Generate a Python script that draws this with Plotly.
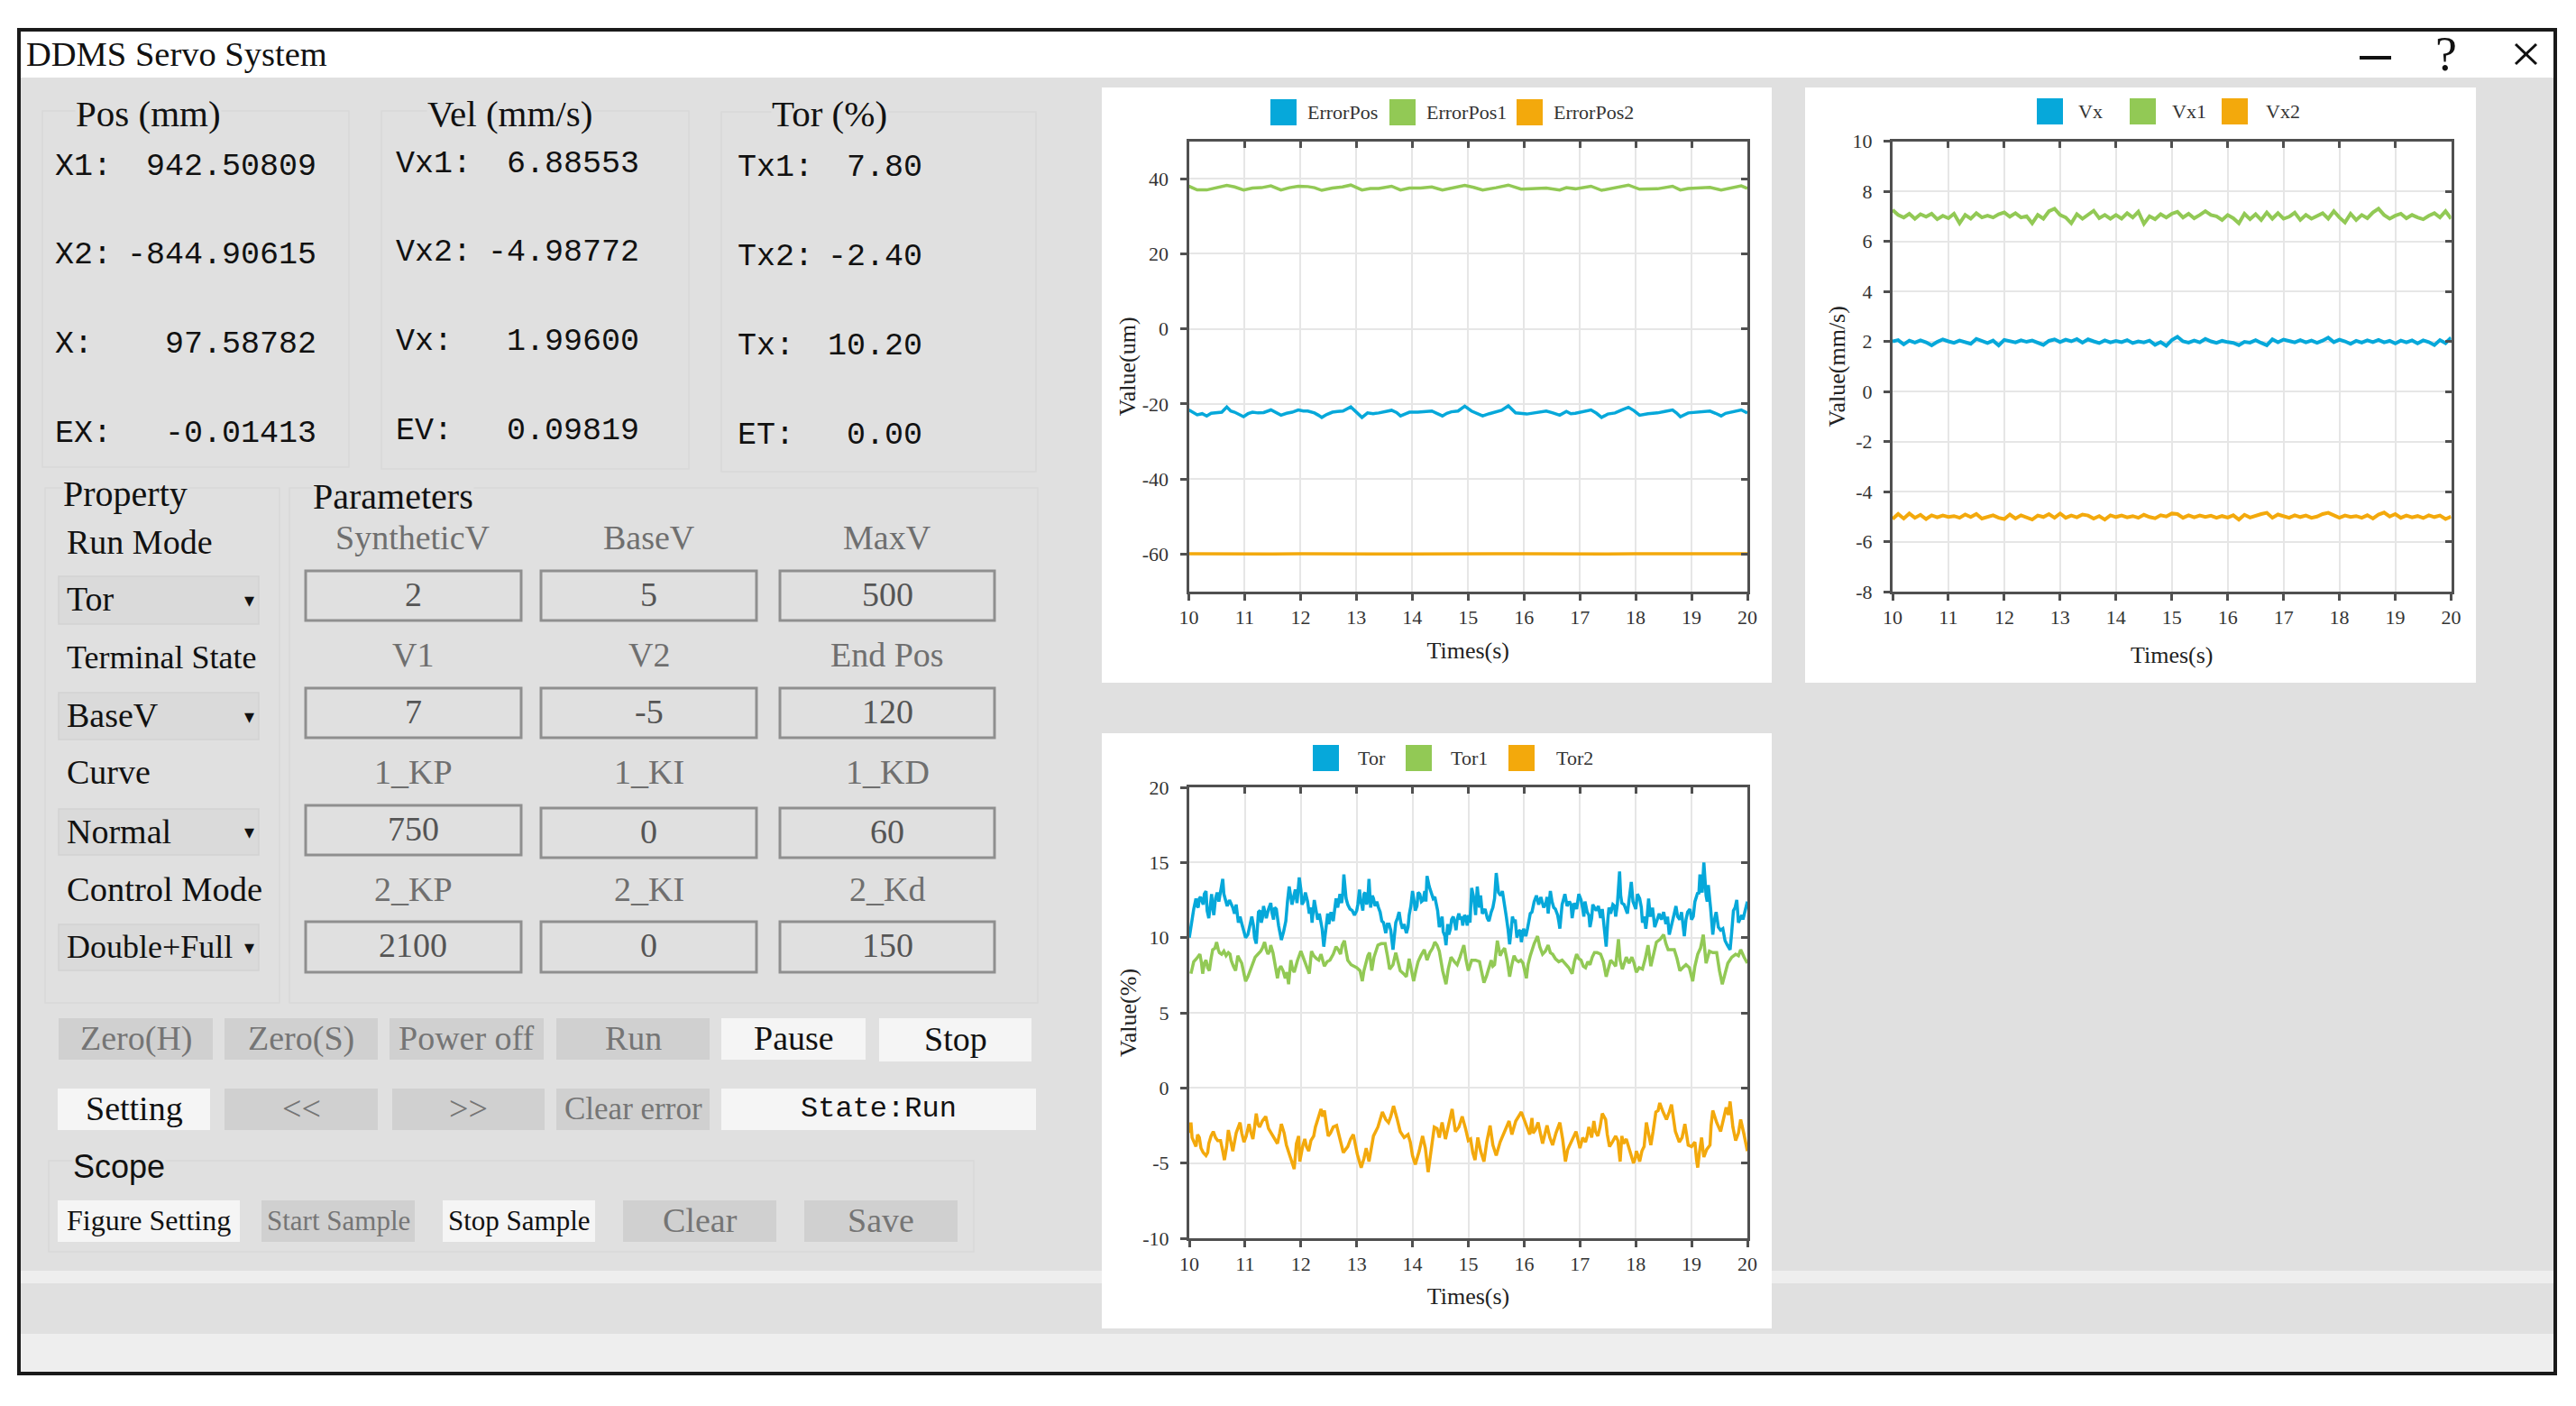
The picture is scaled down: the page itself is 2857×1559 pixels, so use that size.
import plotly.graph_objects as go

WIDTH = 2857
HEIGHT = 1559

SERIF = "Liberation Serif"
MONO = "Liberation Mono"
SANS = "Liberation Sans"

BLUE = "#06A8DA"
GREEN = "#92C955"
ORANGE = "#F3A90C"
BG = "#E0E0E0"
BAND = "#EEEEEE"
DARK = "#111111"
MUTED = "#6F6F6F"

# ---- chart values: (time, value)
ERROR_POS = [(10.0,-21.6),(10.08,-22.2),(10.15,-22.9),(10.24,-22.6),(10.32,-23.2),(10.4,-22.5),(10.47,-22.4),(10.59,-22.2),(10.68,-20.8),(10.75,-21.9),(10.82,-22.2),(10.9,-22.7),(10.98,-23.4),(11.06,-22.6),(11.14,-22.2),(11.24,-22.4),(11.34,-22.3),(11.47,-21.6),(11.56,-22.4),(11.65,-23.0),(11.75,-22.5),(11.85,-22.2),(11.96,-21.6),(12.05,-21.9),(12.13,-21.9),(12.25,-22.4),(12.32,-23.0),(12.38,-23.6),(12.47,-22.8),(12.57,-22.2),(12.66,-22.0),(12.76,-21.9),(12.9,-20.8),(13.0,-22.3),(13.1,-23.6),(13.2,-22.4),(13.3,-22.6),(13.4,-22.4),(13.52,-22.1),(13.63,-21.7),(13.72,-22.3),(13.79,-23.2),(13.87,-22.7),(13.95,-22.2),(14.1,-22.2),(14.22,-22.0),(14.35,-21.9),(14.45,-22.6),(14.54,-23.2),(14.62,-22.5),(14.7,-22.1),(14.82,-21.9),(14.94,-20.6),(15.06,-21.9),(15.16,-22.6),(15.26,-23.2),(15.38,-22.6),(15.5,-22.2),(15.6,-21.7),(15.72,-20.5),(15.85,-22.4),(16.05,-22.7),(16.2,-22.3),(16.4,-21.9),(16.52,-22.4),(16.64,-23.0),(16.76,-22.0),(16.84,-22.6),(16.92,-22.5),(17.05,-22.0),(17.2,-21.6),(17.3,-22.5),(17.39,-23.6),(17.5,-22.7),(17.63,-22.4),(17.75,-21.6),(17.87,-20.9),(17.97,-21.8),(18.07,-23.0),(18.22,-22.6),(18.39,-22.4),(18.52,-22.0),(18.66,-21.6),(18.73,-22.4),(18.8,-23.4),(18.94,-22.4),(19.12,-22.1),(19.33,-21.9),(19.43,-22.5),(19.53,-23.2),(19.61,-22.5),(19.69,-22.2),(19.8,-21.8),(19.89,-21.6),(20.0,-22.4)]
ERROR_POS1 = [(10.0,38.0),(10.15,37.0),(10.32,37.0),(10.47,37.5),(10.68,38.2),(10.82,37.8),(10.98,37.0),(11.14,37.5),(11.3,37.6),(11.47,38.1),(11.65,37.0),(11.8,37.6),(11.96,38.0),(12.13,37.9),(12.25,37.6),(12.38,36.9),(12.57,37.5),(12.75,37.8),(12.9,38.3),(13.1,37.0),(13.25,37.4),(13.4,37.4),(13.63,38.0),(13.79,37.0),(13.95,37.5),(14.15,37.5),(14.35,37.8),(14.54,37.0),(14.7,37.5),(14.94,38.2),(15.1,37.7),(15.26,37.0),(15.5,37.6),(15.72,38.3),(15.95,37.2),(16.2,37.4),(16.4,37.5),(16.64,37.0),(16.76,37.6),(16.92,37.3),(17.2,38.0),(17.39,36.9),(17.63,37.5),(17.87,38.3),(18.07,37.2),(18.39,37.3),(18.66,38.0),(18.8,37.0),(18.94,37.4),(19.33,37.7),(19.53,37.0),(19.69,37.4),(19.89,38.1),(20.0,37.4)]
ERROR_POS2 = [(10.0,-59.9),(10.5,-60.0),(11.0,-59.9),(11.5,-60.0),(12.0,-59.9),(12.5,-60.0),(13.0,-59.9),(13.5,-60.0),(14.0,-60.0),(14.5,-59.9),(15.0,-60.0),(15.5,-59.9),(16.0,-59.9),(16.5,-60.0),(17.0,-59.9),(17.5,-60.0),(18.0,-59.9),(18.5,-60.0),(19.0,-59.9),(19.5,-59.9),(20.0,-59.9)]

V_TIMES = [10.0,10.1,10.2,10.3,10.4,10.5,10.6,10.7,10.8,10.9,11.0,11.1,11.2,11.3,11.4,11.5,11.6,11.7,11.8,11.9,12.0,12.1,12.2,12.3,12.4,12.5,12.6,12.7,12.8,12.9,13.0,13.1,13.2,13.3,13.4,13.5,13.6,13.7,13.8,13.9,14.0,14.1,14.2,14.3,14.4,14.5,14.6,14.7,14.8,14.9,15.0,15.1,15.2,15.3,15.4,15.5,15.6,15.7,15.8,15.9,16.0,16.1,16.2,16.3,16.4,16.5,16.6,16.7,16.8,16.9,17.0,17.1,17.2,17.3,17.4,17.5,17.6,17.7,17.8,17.9,18.0,18.1,18.2,18.3,18.4,18.5,18.6,18.7,18.8,18.9,19.0,19.1,19.2,19.3,19.4,19.5,19.6,19.7,19.8,19.9,20.0]
VX = [2.0,2.05,1.88,2.03,1.95,2.04,1.96,1.84,1.98,2.08,2.0,1.94,2.03,1.97,1.9,2.1,2.0,1.93,2.03,1.84,2.06,2.0,1.96,2.04,1.98,2.03,1.94,1.86,2.02,2.08,1.97,2.07,2.0,2.09,1.95,2.08,2.0,1.93,2.04,1.96,2.02,1.97,2.05,1.93,2.0,1.96,2.03,1.86,1.97,1.82,2.05,2.18,2.0,1.95,2.03,1.96,2.1,2.0,1.94,2.02,1.97,1.94,1.85,1.98,1.95,2.05,1.94,1.84,2.08,1.96,2.07,2.0,1.96,2.05,1.96,2.03,1.94,2.03,2.15,1.97,2.07,2.0,1.9,2.02,1.95,2.04,1.97,2.06,1.96,2.02,1.92,2.03,1.96,2.04,1.92,2.04,1.97,1.85,2.05,1.93,2.15]
VX1 = [7.25,7.05,6.95,7.1,6.9,7.08,6.98,7.1,6.88,7.02,6.92,7.1,6.72,7.05,6.9,7.12,6.95,7.02,6.95,7.08,7.15,6.98,7.12,6.95,7.0,6.72,7.05,6.9,7.2,7.3,7.05,6.95,6.72,7.08,6.9,7.05,7.22,6.92,7.05,6.9,7.05,6.9,7.12,6.95,7.18,6.7,7.0,6.88,7.08,6.95,7.1,7.18,6.95,7.1,6.92,7.05,7.2,7.05,7.0,6.85,7.05,6.92,6.72,7.1,6.88,7.08,6.85,7.15,6.9,7.12,6.9,6.98,7.14,6.85,7.05,6.9,7.0,7.12,6.9,7.2,6.95,6.75,7.1,6.85,7.05,6.92,7.15,7.3,7.05,6.9,7.02,7.1,6.92,7.05,6.95,6.88,7.02,7.12,6.95,7.2,6.9]
VX2 = [-5.1,-4.9,-5.08,-4.88,-5.05,-4.93,-5.1,-4.95,-5.03,-4.96,-5.02,-4.98,-5.05,-4.92,-5.02,-4.9,-5.08,-5.0,-4.95,-5.05,-5.1,-4.92,-5.08,-4.95,-5.02,-5.12,-4.96,-5.02,-4.9,-5.05,-4.88,-5.05,-4.96,-5.03,-4.92,-4.96,-5.08,-4.98,-5.12,-4.95,-5.02,-4.96,-5.03,-4.98,-5.05,-4.93,-5.02,-5.07,-4.95,-5.0,-4.88,-4.9,-5.05,-4.95,-5.03,-4.96,-5.02,-4.97,-5.05,-4.98,-5.04,-4.95,-5.12,-4.93,-5.04,-4.96,-4.9,-4.85,-5.05,-4.92,-4.98,-5.05,-4.95,-5.02,-4.96,-5.05,-5.0,-4.9,-4.85,-4.95,-5.05,-4.96,-5.02,-4.98,-5.05,-4.95,-5.08,-4.92,-4.84,-5.0,-4.9,-5.05,-4.96,-5.03,-4.98,-5.06,-4.95,-5.02,-4.96,-5.1,-5.0]

# torque peaks and valleys
TOR = [(10.0,10.0),(10.03,10.8),(10.08,11.9),(10.12,12.6),(10.16,12.0),(10.2,12.7),(10.25,12.2),(10.3,13.1),(10.35,11.3),(10.4,12.9),(10.44,11.5),(10.5,13.0),(10.53,12.4),(10.56,13.0),(10.6,13.9),(10.65,12.5),(10.72,12.5),(10.78,12.0),(10.84,12.2),(10.88,11.0),(10.95,10.8),(11.01,10.0),(11.05,10.2),(11.1,11.2),(11.15,10.8),(11.2,9.6),(11.24,11.7),(11.29,11.0),(11.33,12.1),(11.38,11.3),(11.46,12.3),(11.51,11.2),(11.56,11.9),(11.6,10.8),(11.65,9.85),(11.73,11.1),(11.79,13.4),(11.84,12.2),(11.9,13.2),(11.93,12.3),(11.97,14.0),(12.02,12.2),(12.08,13.0),(12.12,12.4),(12.18,12.0),(12.2,11.0),(12.24,12.5),(12.3,11.2),(12.33,11.6),(12.38,10.6),(12.41,9.4),(12.46,11.4),(12.5,10.9),(12.58,11.1),(12.63,12.6),(12.7,12.9),(12.73,12.3),(12.77,14.2),(12.81,12.6),(12.88,11.9),(12.96,11.5),(13.02,12.2),(13.05,13.2),(13.09,12.2),(13.13,12.9),(13.18,12.2),(13.22,13.9),(13.25,12.0),(13.3,12.6),(13.36,12.4),(13.42,11.7),(13.48,11.0),(13.52,10.3),(13.58,10.9),(13.65,9.2),(13.7,11.0),(13.76,11.7),(13.82,10.6),(13.89,10.3),(13.94,11.5),(14.0,13.1),(14.05,11.8),(14.1,13.0),(14.16,12.4),(14.22,13.1),(14.26,14.1),(14.33,13.0),(14.4,12.7),(14.45,11.8),(14.5,11.0),(14.55,10.4),(14.6,9.5),(14.65,10.2),(14.7,11.2),(14.76,10.9),(14.8,11.2),(14.86,11.2),(14.9,10.8),(14.96,11.3),(15.0,11.5),(15.03,11.0),(15.06,13.3),(15.13,11.5),(15.16,13.4),(15.2,12.0),(15.25,11.6),(15.37,11.1),(15.44,12.0),(15.5,14.3),(15.58,12.8),(15.64,12.2),(15.68,11.4),(15.74,9.55),(15.79,11.4),(15.84,11.2),(15.9,10.4),(15.95,9.7),(16.03,10.1),(16.08,11.0),(16.14,11.7),(16.22,12.8),(16.3,12.7),(16.39,12.3),(16.43,11.6),(16.47,13.1),(16.53,12.0),(16.6,11.5),(16.64,10.6),(16.73,12.9),(16.81,12.4),(16.86,11.3),(16.98,12.9),(17.05,11.9),(17.09,12.4),(17.18,10.7),(17.23,12.2),(17.29,11.8),(17.37,11.3),(17.43,10.8),(17.47,9.4),(17.52,12.0),(17.59,12.2),(17.64,11.4),(17.71,14.4),(17.75,12.3),(17.85,11.6),(17.92,13.7),(18.0,11.9),(18.07,12.6),(18.12,11.0),(18.18,10.6),(18.23,12.6),(18.34,10.7),(18.42,11.6),(18.5,11.7),(18.6,10.2),(18.72,12.1),(18.79,11.2),(18.87,10.1),(18.93,11.7),(19.0,11.2),(19.06,12.4),(19.11,13.0),(19.15,14.2),(19.19,13.0),(19.22,15.0),(19.26,12.8),(19.3,13.5),(19.38,10.2),(19.44,11.7),(19.52,10.5),(19.6,9.8),(19.69,9.2),(19.75,11.8),(19.81,12.5),(19.84,11.0),(19.9,11.5),(19.95,11.6),(20.0,12.4)]
TOR1 = [(10.03,7.6),(10.08,8.4),(10.19,8.9),(10.24,7.6),(10.3,8.5),(10.36,7.8),(10.42,9.2),(10.49,9.7),(10.54,9.0),(10.62,9.1),(10.7,9.0),(10.75,8.5),(10.83,7.8),(10.87,8.8),(10.94,8.3),(11.01,7.1),(11.1,7.9),(11.18,8.7),(11.28,9.1),(11.35,9.7),(11.41,8.9),(11.46,9.5),(11.53,8.4),(11.58,7.3),(11.64,8.1),(11.72,7.3),(11.78,6.9),(11.82,8.5),(11.88,7.7),(12.0,9.1),(12.07,8.5),(12.15,7.6),(12.19,9.1),(12.28,8.6),(12.36,8.9),(12.42,8.1),(12.52,8.5),(12.63,9.4),(12.71,8.9),(12.78,9.8),(12.84,8.5),(12.95,8.1),(13.06,7.8),(13.1,7.1),(13.17,8.4),(13.23,9.0),(13.27,7.8),(13.38,9.5),(13.51,9.6),(13.59,7.9),(13.7,9.0),(13.78,7.8),(13.89,7.4),(13.94,8.6),(14.02,7.1),(14.1,8.4),(14.21,9.2),(14.26,8.5),(14.4,9.7),(14.48,9.1),(14.6,6.9),(14.69,8.7),(14.8,8.2),(14.92,9.5),(15.0,7.8),(15.06,8.5),(15.2,8.4),(15.28,7.0),(15.33,7.5),(15.41,8.5),(15.47,8.2),(15.52,9.8),(15.57,8.8),(15.65,9.3),(15.74,7.4),(15.82,8.8),(15.9,8.4),(15.98,8.3),(16.04,7.3),(16.11,8.8),(16.24,10.1),(16.33,8.9),(16.43,9.5),(16.51,8.9),(16.62,8.4),(16.75,8.2),(16.86,7.6),(16.94,8.9),(17.02,8.5),(17.1,8.0),(17.18,8.2),(17.26,9.0),(17.37,8.9),(17.47,7.4),(17.55,8.5),(17.64,8.1),(17.69,9.9),(17.76,7.9),(17.83,8.7),(17.93,8.7),(18.01,7.7),(18.12,7.9),(18.22,9.5),(18.27,8.1),(18.37,9.7),(18.5,10.2),(18.58,9.2),(18.69,9.2),(18.74,8.6),(18.79,7.8),(18.9,8.2),(19.02,7.1),(19.11,8.9),(19.21,10.2),(19.26,8.3),(19.32,9.1),(19.45,9.0),(19.55,6.9),(19.65,8.3),(19.79,8.9),(19.88,9.2),(20.0,8.3)]
TOR2 = [(10.0,-3.0),(10.03,-2.3),(10.05,-3.3),(10.15,-3.1),(10.21,-4.0),(10.3,-4.5),(10.35,-3.7),(10.43,-2.9),(10.51,-3.5),(10.56,-3.5),(10.63,-4.8),(10.7,-2.8),(10.78,-4.2),(10.91,-2.3),(10.98,-3.6),(11.07,-2.4),(11.14,-3.4),(11.2,-1.7),(11.26,-2.6),(11.37,-1.9),(11.42,-2.7),(11.58,-3.7),(11.65,-2.4),(11.74,-3.8),(11.88,-5.4),(11.96,-3.2),(11.98,-4.9),(12.07,-3.4),(12.14,-4.2),(12.23,-3.2),(12.26,-2.6),(12.36,-1.4),(12.42,-1.5),(12.49,-3.2),(12.58,-2.6),(12.64,-2.5),(12.76,-4.3),(12.84,-3.9),(12.94,-3.1),(13.08,-5.3),(13.17,-4.0),(13.22,-4.9),(13.3,-3.2),(13.46,-1.6),(13.57,-2.3),(13.66,-1.2),(13.78,-2.9),(13.92,-3.1),(14.0,-4.5),(14.05,-5.1),(14.18,-3.2),(14.28,-5.6),(14.39,-2.6),(14.48,-3.3),(14.53,-2.3),(14.59,-3.4),(14.71,-1.4),(14.77,-2.9),(14.89,-1.9),(15.0,-3.5),(15.04,-3.4),(15.12,-4.8),(15.17,-3.3),(15.28,-4.9),(15.39,-2.5),(15.5,-4.5),(15.65,-2.9),(15.73,-2.2),(15.78,-3.1),(15.95,-1.6),(16.06,-2.7),(16.14,-2.0),(16.16,-3.0),(16.25,-2.3),(16.33,-3.7),(16.41,-2.5),(16.51,-3.8),(16.64,-2.3),(16.74,-4.9),(16.83,-3.7),(16.93,-2.9),(17.0,-4.0),(17.1,-3.6),(17.16,-2.6),(17.21,-3.3),(17.25,-2.2),(17.32,-3.2),(17.4,-1.7),(17.46,-2.1),(17.53,-3.9),(17.64,-3.2),(17.72,-4.9),(17.75,-3.2),(17.83,-3.4),(17.96,-5.0),(18.01,-4.2),(18.07,-4.9),(18.15,-3.9),(18.19,-2.3),(18.27,-3.8),(18.36,-1.6),(18.43,-1.0),(18.55,-2.1),(18.64,-1.1),(18.78,-3.6),(18.88,-2.4),(18.94,-3.8),(19.06,-3.6),(19.11,-5.3),(19.18,-3.3),(19.22,-4.6),(19.33,-3.8),(19.38,-1.5),(19.52,-2.9),(19.62,-1.3),(19.69,-0.9),(19.79,-3.5),(19.88,-2.1),(20.0,-4.2)]

# finer wiggles between those peaks, merged in by time
TOR_FINE = [(10.06,11.3),(10.14,12.1),(10.18,12.6),(10.27,12.9),(10.32,11.8),(10.38,12.2),(10.42,12.0),(10.47,12.6),(10.62,12.9),(10.68,12.1),(10.75,12.3),(10.81,11.6),(10.91,11.4),(10.98,10.4),(11.12,11.4),(11.17,10.0),(11.27,11.8),(11.31,11.3),(11.35,11.8),(11.42,11.9),(11.48,11.7),(11.53,12.0),(11.69,10.4),(11.76,12.4),(11.82,12.7),(11.87,12.7),(12.0,13.2),(12.05,12.4),(12.15,11.6),(12.27,11.8),(12.35,11.2),(12.44,10.4),(12.48,11.6),(12.54,11.7),(12.6,11.6),(12.66,12.0),(12.75,12.9),(12.84,12.2),(12.92,11.8),(13.0,11.8),(13.07,12.4),(13.11,11.8),(13.15,13.0),(13.2,12.6),(13.28,12.8),(13.33,12.1),(13.39,12.0),(13.45,11.1),(13.55,10.9),(13.61,10.5),(13.68,10.2),(13.73,11.3),(13.79,11.0),(13.85,10.9),(13.92,10.7),(13.97,12.1),(14.03,12.4),(14.08,12.1),(14.13,12.9),(14.19,12.5),(14.24,12.4),(14.3,13.4),(14.37,12.6),(14.42,12.4),(14.48,10.7),(14.53,11.4),(14.58,10.1),(14.63,10.9),(14.68,10.6),(14.73,11.4),(14.78,10.5),(14.83,11.6),(14.88,11.4),(14.93,11.5),(14.98,10.8),(15.1,12.6),(15.22,12.8),(15.3,11.9),(15.34,11.3),(15.41,11.7),(15.47,12.6),(15.54,13.0),(15.61,13.1),(15.71,10.6),(15.77,10.6),(15.82,11.0),(15.87,10.0),(15.93,10.5),(15.99,10.6),(16.06,10.6),(16.11,11.6),(16.18,12.4),(16.26,12.2),(16.35,12.0),(16.41,12.7),(16.5,12.4),(16.56,11.9),(16.62,11.1),(16.68,12.2),(16.77,12.1),(16.84,12.2),(16.9,12.3),(16.94,11.9),(17.02,12.5),(17.07,11.4),(17.13,11.7),(17.16,11.5),(17.21,11.3),(17.26,12.0),(17.33,12.1),(17.4,11.9),(17.45,10.3),(17.5,11.2),(17.55,11.6),(17.62,12.1),(17.67,12.2),(17.73,12.8),(17.79,12.2),(17.82,11.9),(17.88,12.5),(17.95,12.4),(18.03,12.9),(18.1,12.0),(18.15,11.4),(18.2,11.2),(18.26,11.4),(18.3,12.0),(18.38,11.2),(18.46,11.2),(18.54,10.9),(18.57,11.4),(18.65,11.1),(18.69,11.6),(18.75,11.4),(18.82,11.7),(18.9,11.2),(18.97,11.9),(19.03,11.4),(19.09,12.7),(19.13,12.9),(19.17,13.5),(19.24,13.6),(19.28,12.4),(19.34,12.0),(19.41,11.2),(19.48,10.7),(19.56,10.6),(19.64,9.5),(19.72,10.4),(19.78,12.0),(19.87,11.3),(19.92,11.2),(19.97,11.9)]
TOR1_FINE = [(10.05,7.9),(10.13,8.6),(10.22,8.3),(10.27,8.3),(10.33,8.0),(10.39,8.6),(10.46,9.3),(10.52,9.2),(10.58,8.9),(10.66,8.8),(10.73,8.9),(10.79,8.1),(10.85,8.3),(10.91,8.5),(10.98,7.6),(11.05,7.4),(11.14,8.3),(11.23,8.9),(11.31,9.3),(11.38,9.2),(11.44,9.1),(11.5,9.0),(11.56,7.9),(11.61,7.9),(11.68,7.8),(11.75,7.7),(11.85,7.9),(11.94,8.5),(12.04,8.7),(12.11,8.0),(12.23,8.8),(12.32,8.5),(12.39,8.5),(12.47,8.4),(12.58,8.9),(12.67,9.2),(12.74,9.5),(12.81,9.1),(12.9,8.2),(13.0,8.0),(13.13,7.8),(13.2,8.8),(13.31,8.7),(13.44,9.6),(13.55,8.8),(13.65,8.2),(13.74,8.4),(13.84,7.6),(13.97,8.0),(14.06,7.8),(14.15,8.8),(14.31,9.0),(14.36,9.3),(14.44,9.5),(14.54,7.8),(14.64,7.9),(14.75,8.4),(14.85,8.7),(14.96,8.5),(15.13,8.5),(15.24,7.6),(15.37,8.1),(15.44,8.1),(15.61,9.1),(15.7,8.4),(15.78,8.2),(15.86,8.5),(15.94,8.5),(16.01,7.8),(16.07,8.2),(16.18,9.6),(16.28,9.4),(16.38,9.1),(16.47,9.0),(16.56,8.6),(16.68,8.5),(16.8,8.0),(16.9,8.4),(16.98,8.6),(17.06,8.1),(17.14,8.4),(17.22,8.7),(17.31,9.0),(17.42,8.4),(17.51,8.0),(17.6,8.3),(17.72,8.5),(17.8,8.4),(17.88,8.3),(17.97,8.3),(18.06,8.0),(18.17,8.6),(18.32,9.0),(18.44,9.9),(18.54,9.6),(18.63,9.2),(18.84,8.0),(18.96,8.0),(19.06,8.1),(19.16,9.3),(19.38,9.0),(19.5,7.8),(19.6,7.6),(19.72,8.7),(19.84,8.8),(19.94,8.7)]
TOR2_FINE = [(10.08,-3.6),(10.12,-3.9),(10.18,-3.3),(10.25,-4.3),(10.33,-4.3),(10.39,-3.2),(10.47,-3.3),(10.6,-4.2),(10.67,-3.9),(10.74,-3.5),(10.84,-3.0),(10.94,-3.0),(11.02,-3.2),(11.1,-2.9),(11.17,-2.6),(11.23,-2.4),(11.31,-2.2),(11.48,-3.1),(11.54,-3.5),(11.62,-3.0),(11.7,-3.0),(11.81,-4.6),(11.92,-3.7),(12.03,-3.9),(12.1,-3.9),(12.18,-3.5),(12.31,-2.0),(12.39,-1.9),(12.46,-2.5),(12.53,-3.0),(12.7,-3.4),(12.8,-4.1),(12.89,-3.4),(13.01,-4.4),(13.13,-4.7),(13.26,-4.1),(13.38,-2.6),(13.52,-2.1),(13.61,-1.9),(13.72,-2.0),(13.85,-3.3),(13.96,-3.6),(14.12,-4.2),(14.23,-4.0),(14.34,-3.9),(14.44,-2.7),(14.65,-2.4),(14.74,-2.2),(14.83,-2.6),(14.95,-2.7),(15.08,-4.3),(15.15,-4.1),(15.22,-4.2),(15.33,-3.6),(15.44,-3.8),(15.57,-3.6),(15.85,-2.2),(16.02,-2.3),(16.1,-3.1),(16.2,-2.8),(16.29,-3.0),(16.37,-3.1),(16.46,-3.3),(16.57,-3.0),(16.69,-3.4),(16.78,-4.1),(16.88,-3.3),(17.05,-3.3),(17.13,-3.2),(17.28,-2.9),(17.36,-2.6),(17.49,-3.1),(17.58,-3.6),(17.68,-3.5),(17.78,-3.7),(17.89,-4.2),(17.99,-4.7),(18.04,-4.5),(18.11,-4.2),(18.23,-3.1),(18.31,-2.9),(18.4,-1.5),(18.49,-1.6),(18.6,-1.6),(18.71,-2.9),(18.83,-3.3),(18.91,-3.1),(19.0,-3.9),(19.09,-4.8),(19.14,-4.3),(19.2,-4.0),(19.27,-4.1),(19.35,-2.5),(19.45,-2.3),(19.57,-2.1),(19.66,-1.8),(19.74,-2.6),(19.84,-3.0),(19.94,-3.1)]

TIME_TICKS = [10, 11, 12, 13, 14, 15, 16, 17, 18, 19, 20]
POS_TICKS = [-60, -40, -20, 0, 20, 40]
POS_LABELS = ["-60", "-40", "-20", "0", "20", "40"]
VEL_TICKS = [-8, -6, -4, -2, 0, 2, 4, 6, 8, 10]
VEL_LABELS = ["-8", "-6", "-4", "-2", "0", "2", "4", "6", "8", "10"]
TOR_TICKS = [-10, -5, 0, 5, 10, 15, 20]
TOR_LABELS = ["-10", "-5", "0", "5", "10", "15", "20"]

# ---- panel texts
POS_ROWS = [("X1:", "942.50809"), ("X2:", "-844.90615"), ("X:", "97.58782"), ("EX:", "-0.01413")]
VEL_ROWS = [("Vx1:", "6.88553"), ("Vx2:", "-4.98772"), ("Vx:", "1.99600"), ("EV:", "0.09819")]
TOR_ROWS = [("Tx1:", "7.80"), ("Tx2:", "-2.40"), ("Tx:", "10.20"), ("ET:", "0.00")]
PROPERTY_LABELS = ["Run Mode", "Terminal State", "Curve", "Control Mode"]
PROPERTY_VALUES = ["Tor", "BaseV", "Normal", "Double+Full"]
PARAM_LABELS = [["SyntheticV", "BaseV", "MaxV"], ["V1", "V2", "End Pos"], ["1_KP", "1_KI", "1_KD"], ["2_KP", "2_KI", "2_Kd"]]
PARAM_VALUES = [["2", "5", "500"], ["7", "-5", "120"], ["750", "0", "60"], ["2100", "0", "150"]]

shapes = []
annotations = []


def px_x(x):
    return x / WIDTH


def px_y(y):
    return 1 - y / HEIGHT


def rect(x0, y0, x1, y1, fill=None, line=None, line_width=0):
    shapes.append(dict(
        type="rect", xref="paper", yref="paper", layer="below",
        x0=px_x(x0), x1=px_x(x1), y0=px_y(y1), y1=px_y(y0),
        fillcolor=fill if fill else "rgba(0,0,0,0)",
        line=dict(color=line if line else "rgba(0,0,0,0)", width=line_width),
    ))


def stroke(x0, y0, x1, y1, color=DARK, width=3):
    shapes.append(dict(
        type="line", xref="paper", yref="paper", layer="above",
        x0=px_x(x0), x1=px_x(x1), y0=px_y(y0), y1=px_y(y1),
        line=dict(color=color, width=width),
    ))


def text(x, y, content, size=38, color=DARK, anchor="left", family=SERIF, bg=None):
    annotations.append(dict(
        xref="paper", yref="paper", x=px_x(x), y=px_y(y), text=content,
        showarrow=False, xanchor=anchor, yanchor="middle", borderpad=0,
        bgcolor=bg if bg else "rgba(0,0,0,0)",
        font=dict(family=family, size=size, color=color),
    ))


def button(x0, y0, x1, y1, label, enabled=False, size=38, family=SERIF):
    rect(x0, y0, x1, y1, fill="#F5F5F5" if enabled else "#D0D0D0")
    text((x0 + x1) / 2, (y0 + y1) / 2 - 1, label, size=size, anchor="center",
         color=DARK if enabled else "#757575", family=family)


def legend_row(names, square_lefts, text_lefts, top, bottom):
    colors = [BLUE, GREEN, ORANGE]
    for name, color, sq_x, txt_x in zip(names, colors, square_lefts, text_lefts):
        rect(sq_x, top, sq_x + 29, bottom, fill=color)
        text(txt_x, (top + bottom) / 2, name, size=22, color="#333333")


# ---- window chrome
rect(21, 33, 2834, 1523, fill=BG)
rect(21, 33, 2834, 86, fill="#FFFFFF")
rect(21, 1409, 2834, 1423, fill=BAND)
rect(21, 1479, 2834, 1523, fill=BAND)
rect(21, 33, 2834, 1523, line="#1A1A1A", line_width=4)
text(28, 60, "DDMS Servo System", size=38.5)
stroke(2617, 64, 2652, 64, width=4)
text(2713, 60, "?", size=54, anchor="center")
stroke(2790, 49, 2813, 71, width=3)
stroke(2813, 49, 2790, 71, width=3)

# ---- readouts
FRAME = "#D8D8D8"
rect(47, 123, 387, 518, line=FRAME, line_width=1.5)
rect(423, 123, 764, 520, line=FRAME, line_width=1.5)
rect(800, 124, 1149, 523, line=FRAME, line_width=1.5)
text(83, 126, "Pos (mm)", size=41, bg=BG)
text(473, 126, "Vel (mm/s)", size=41, bg=BG)
text(855, 126, "Tor (%)", size=41, bg=BG)

for rows, label_x, value_x, row_ys in [
    (POS_ROWS, 60, 352, [185, 283, 382, 481]),
    (VEL_ROWS, 438, 710, [182, 280, 379, 478]),
    (TOR_ROWS, 817, 1024, [186, 285, 384, 483]),
]:
    for (name, value), y in zip(rows, row_ys):
        text(label_x, y, name, size=35, family=MONO)
        text(value_x, y, value, size=35, family=MONO, anchor="right")

# ---- property and parameter blocks
rect(50, 541, 310, 1112, line=FRAME, line_width=1.5)
rect(321, 541, 1151, 1112, line=FRAME, line_width=1.5)
text(69, 547, "Property", size=40, bg=BG)
text(346, 550, "Parameters", size=40, bg=BG)

for name, y, size in zip(PROPERTY_LABELS, [601, 729, 856, 986], [38, 36, 38, 38.5]):
    text(73, y, name, size=size)
for name, (y0, y1), size in zip(PROPERTY_VALUES, [(639, 692), (768, 820), (897, 948), (1025, 1076)], [38, 38, 38, 36]):
    rect(65, y0, 287, y1, fill="#DADADA", line="#D2D2D2", line_width=1.5)
    text(73, (y0 + y1) / 2 - 1, name, size=size)
    text(276, (y0 + y1) / 2, "\u25be", size=22, anchor="center", family="DejaVu Sans")

COL_BOXES = [(339, 578), (600, 839), (865, 1103)]
ROW_BOXES = [(633, 688), (763, 818), (896, 951), (1022, 1078)]
for labels, values, label_y, (y0, y1) in zip(PARAM_LABELS, PARAM_VALUES, [596, 726, 856, 986], ROW_BOXES):
    for label, value, (x0, x1) in zip(labels, values, COL_BOXES):
        # the 750 box sits a few pixels higher than its row
        shift = -3 if value == "750" else 0
        rect(x0, y0 + shift, x1, y1 + shift, line="#8F8F8F", line_width=3)
        text((x0 + x1) / 2, label_y, label, size=38, color=MUTED, anchor="center")
        text((x0 + x1) / 2, (y0 + y1) / 2 - 2 + shift, value, size=38, color="#555555", anchor="center")

# ---- buttons
button(65, 1129, 236, 1175, "Zero(H)")
button(249, 1129, 419, 1175, "Zero(S)")
button(432, 1129, 603, 1175, "Power off")
button(617, 1129, 787, 1175, "Run")
button(800, 1129, 960, 1175, "Pause", enabled=True)
button(975, 1129, 1144, 1177, "Stop", enabled=True)
button(64, 1207, 233, 1253, "Setting", enabled=True)
button(249, 1207, 419, 1253, "&lt;&lt;")
button(435, 1207, 604, 1253, "&gt;&gt;")
button(617, 1207, 787, 1253, "Clear error", size=35)
button(800, 1207, 1149, 1253, "State:Run", enabled=True, size=32, family=MONO)

rect(54, 1287, 1080, 1388, line=FRAME, line_width=1.5)
text(80, 1293, "Scope", size=36, family=SANS, bg=BG)
button(64, 1331, 266, 1377, "Figure Setting", enabled=True, size=32)
button(290, 1331, 460, 1377, "Start Sample", size=31)
button(491, 1331, 660, 1377, "Stop Sample", enabled=True, size=31)
button(691, 1331, 861, 1377, "Clear")
button(892, 1331, 1062, 1377, "Save")

# ---- chart panels
rect(1222, 97, 1965, 757, fill="#FFFFFF")
rect(2002, 97, 2746, 757, fill="#FFFFFF")
rect(1222, 813, 1965, 1473, fill="#FFFFFF")
legend_row(["ErrorPos", "ErrorPos1", "ErrorPos2"], [1409, 1541, 1682], [1449, 1581, 1722], 110, 139)
legend_row(["Vx", "Vx1", "Vx2"], [2259, 2362, 2464], [2304, 2408, 2512], 109, 138)
legend_row(["Tor", "Tor1", "Tor2"], [1456, 1559, 1673], [1505, 1608, 1725], 826, 855)

fig = go.Figure()
AXIS_COLOR = "#505050"
GRID_COLOR = "#E6E6E6"
TICK_FONT = dict(family=SERIF, size=22, color="#333333")
TITLE_FONT = dict(family=SERIF, size=26, color="#222222")


def add_chart(index, series, names, box, y_range, y_ticks, y_labels, y_title, line_width, x_standoff, y_standoff):
    """Draw one scope plot. index picks the axis pair, box is in page pixels."""
    left, top, right, bottom = box
    main = 2 * index - 1
    over = 2 * index
    main_x = "x" if main == 1 else f"x{main}"
    main_y = "y" if main == 1 else f"y{main}"
    over_x = f"x{over}"
    over_y = f"y{over}"
    x_domain = [px_x(left), px_x(right)]
    y_domain = [px_y(bottom), px_y(top)]

    for points, name, color in zip(series, names, [BLUE, GREEN, ORANGE]):
        fig.add_trace(go.Scatter(
            x=[p[0] for p in points], y=[p[1] for p in points], name=name,
            mode="lines", line=dict(color=color, width=line_width), showlegend=False,
            xaxis=main_x, yaxis=main_y,
        ))
    # empty trace so the opposite axes (inward ticks) get drawn
    fig.add_trace(go.Scatter(
        x=[10], y=[y_range[0]], mode="lines", showlegend=False, hoverinfo="skip",
        xaxis=over_x, yaxis=over_y,
    ))

    shared = dict(
        linecolor=AXIS_COLOR, linewidth=3, tickcolor=AXIS_COLOR, tickwidth=3,
        ticklen=7, zeroline=False,
    )
    fig.update_layout({
        f"xaxis{'' if main == 1 else main}": dict(
            domain=x_domain, anchor=main_y, range=[10, 20], tickvals=TIME_TICKS,
            ticktext=[str(t) for t in TIME_TICKS], ticks="outside", tickfont=TICK_FONT,
            showgrid=True, gridcolor=GRID_COLOR, gridwidth=2, automargin=True,
            title=dict(text="Times(s)", font=TITLE_FONT, standoff=x_standoff), **shared,
        ),
        f"yaxis{'' if main == 1 else main}": dict(
            domain=y_domain, anchor=main_x, range=y_range, tickvals=y_ticks,
            ticktext=y_labels, ticks="outside", tickfont=TICK_FONT, ticklabelstandoff=8,
            showgrid=True, gridcolor=GRID_COLOR, gridwidth=2, automargin=True,
            title=dict(text=y_title, font=TITLE_FONT, standoff=y_standoff), **shared,
        ),
        f"xaxis{over}": dict(
            domain=x_domain, anchor=over_y, overlaying=main_x, side="top", range=[10, 20],
            tickvals=TIME_TICKS, ticks="inside", showticklabels=False, showgrid=False, **shared,
        ),
        f"yaxis{over}": dict(
            domain=y_domain, anchor=over_x, overlaying=main_y, side="right", range=y_range,
            tickvals=y_ticks, ticks="inside", showticklabels=False, showgrid=False, **shared,
        ),
    })


add_chart(1, [ERROR_POS, ERROR_POS1, ERROR_POS2], ["ErrorPos", "ErrorPos1", "ErrorPos2"],
          (1318.5, 156.5, 1938, 656), [-70, 50], POS_TICKS, POS_LABELS, "Value(um)", 3.5, 16, 0)
add_chart(2, [list(zip(V_TIMES, VX)), list(zip(V_TIMES, VX1)), list(zip(V_TIMES, VX2))], ["Vx", "Vx1", "Vx2"],
          (2099, 156.5, 2718.5, 656), [-8, 10], VEL_TICKS, VEL_LABELS, "Value(mm/s)", 4, 21, 1)
add_chart(3, [sorted(TOR + TOR_FINE), sorted(TOR1 + TOR1_FINE), sorted(TOR2 + TOR2_FINE)], ["Tor", "Tor1", "Tor2"],
          (1319, 873, 1938, 1373), [-10, 20], TOR_TICKS, TOR_LABELS, "Value(%)", 3.5, 15, 0)

fig.update_layout(
    width=WIDTH,
    height=HEIGHT,
    margin=dict(l=0, r=0, t=0, b=0, pad=0, autoexpand=False),
    paper_bgcolor="#FFFFFF",
    plot_bgcolor="rgba(0,0,0,0)",
    showlegend=False,
    shapes=shapes,
    annotations=annotations,
)

fig.write_html("out.html", config={"displayModeBar": False},
               post_script="document.body.style.margin='0';")
